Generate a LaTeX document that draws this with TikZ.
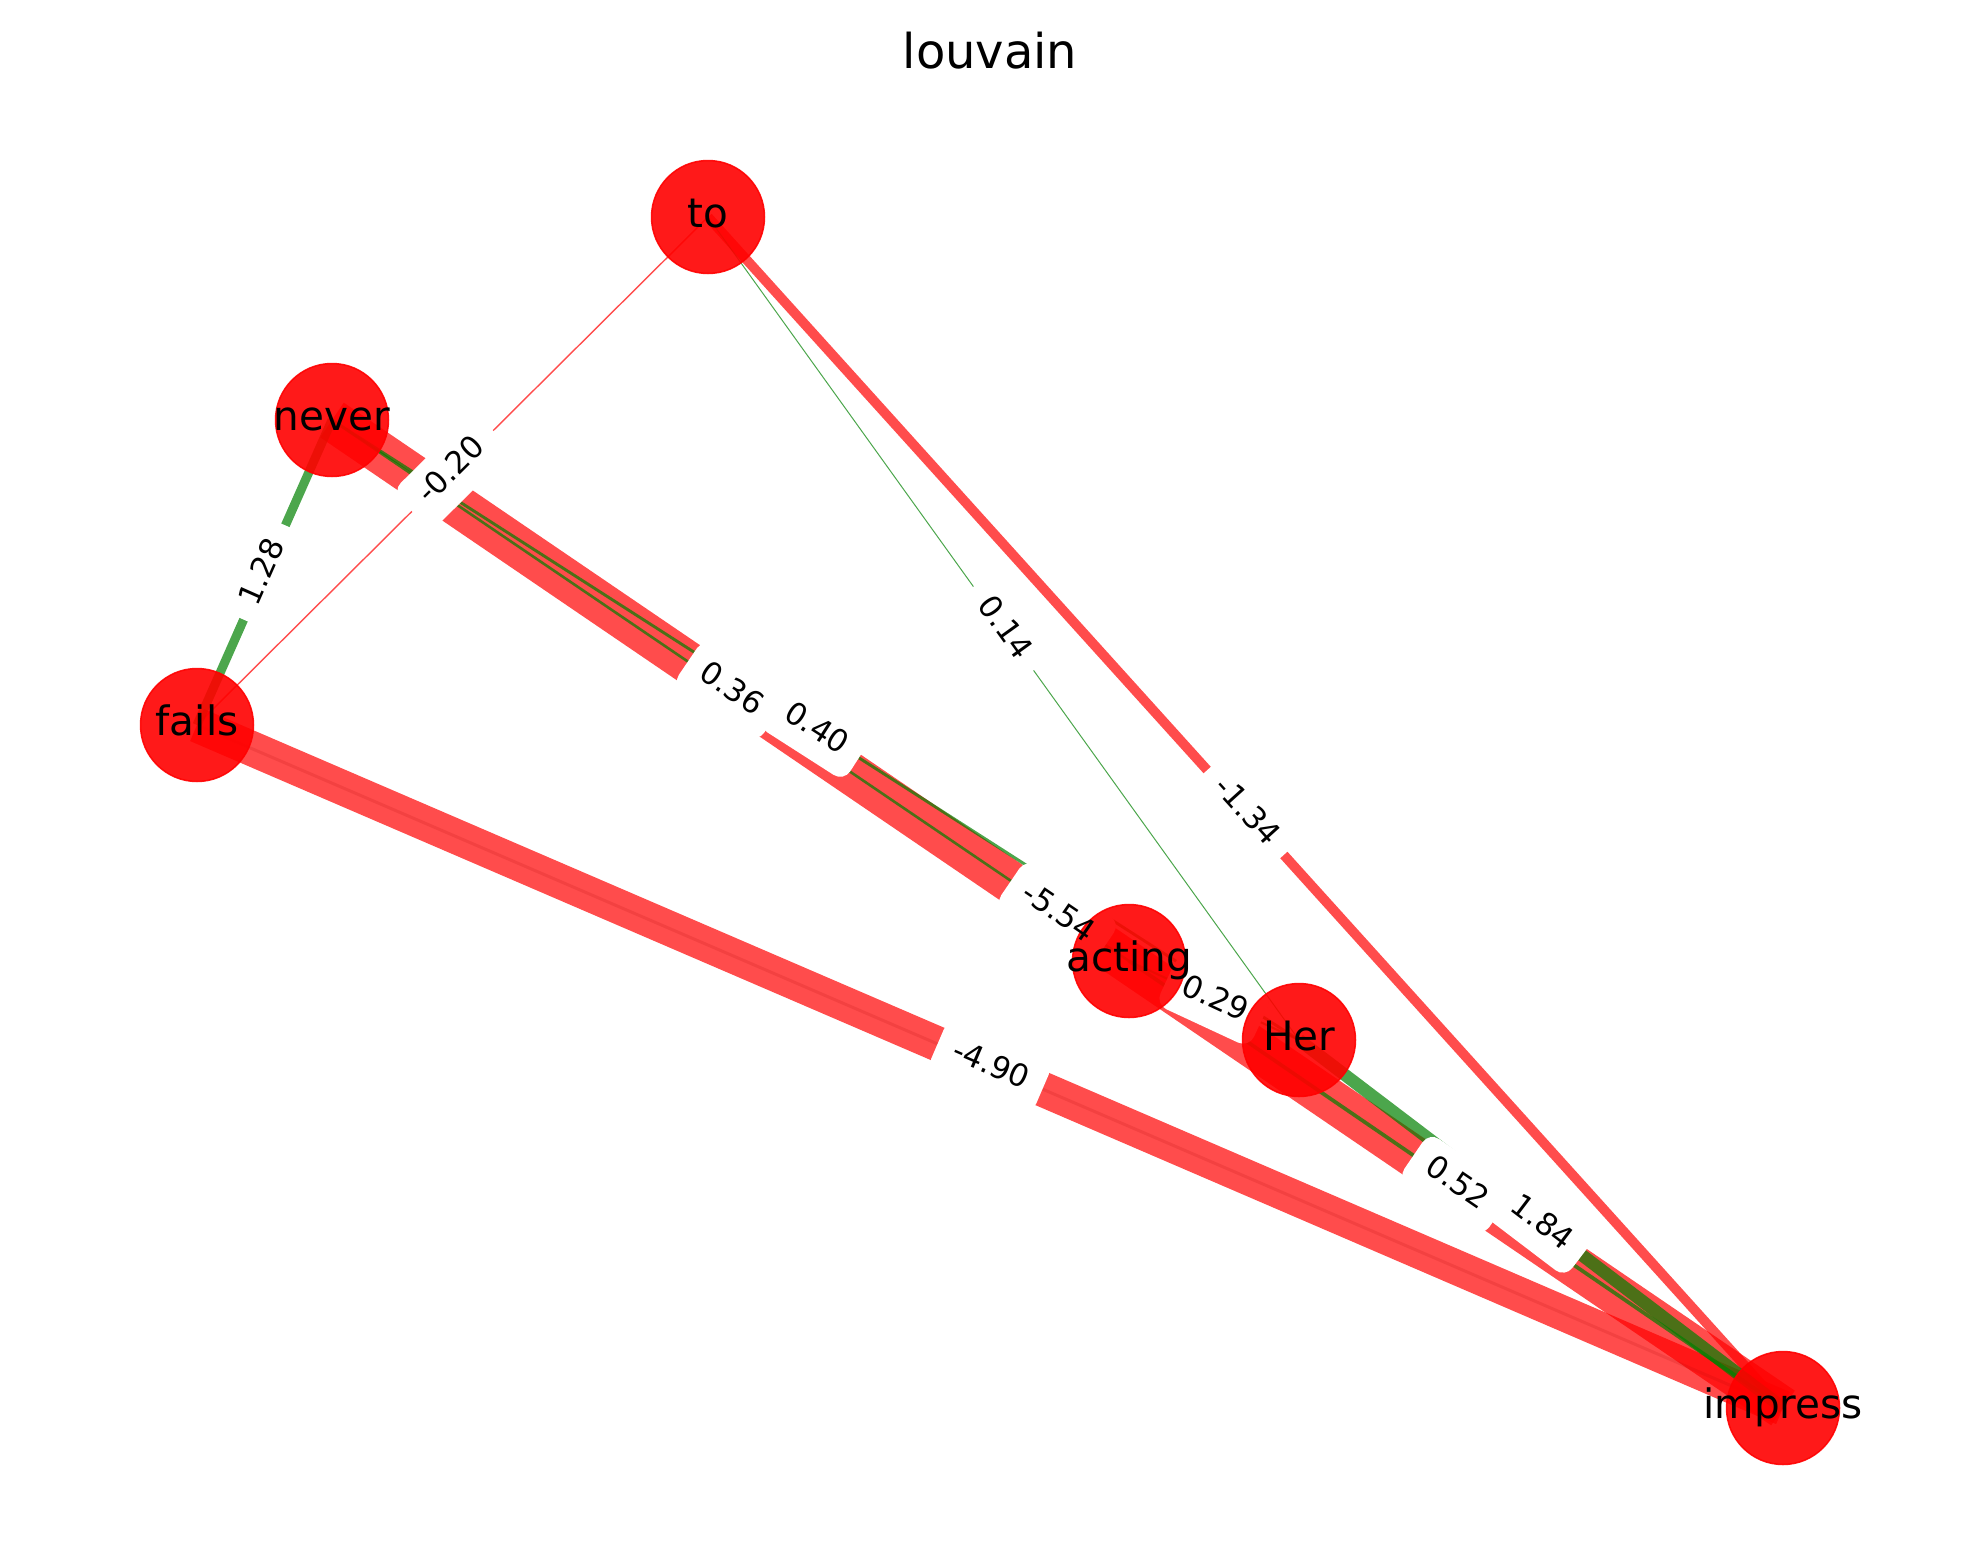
\documentclass[tikz,border=0pt]{standalone}
\usepackage{fontspec}
\setmainfont{DejaVu Sans}
\pgfdeclarelayer{edges}
\pgfdeclarelayer{boxes}
\pgfdeclarelayer{front}
\pgfsetlayers{edges,boxes,main,front}
\definecolor{mplgreen}{RGB}{0,128,0}
\definecolor{mplred}{RGB}{255,0,0}
\newcommand\elab[3]{%
  \begin{pgfonlayer}{boxes}\path (#1.center) -- node[lblbox] (lb-#1-#2) {\phantom{#3}} (#2.center);\end{pgfonlayer}%
  \begin{pgfonlayer}{front}\path (#1.center) -- node[lbltext] (lt-#1-#2) {#3} (#2.center);\end{pgfonlayer}}
\tikzset{
  vtx/.style={circle, minimum size=113pt, inner sep=0pt, fill=mplred, fill opacity=0.9, draw=mplred, draw opacity=0.9, line width=1.5pt},
  vtxtext/.style={font=\fontsize{40.5}{40.5}\selectfont, text height=30.8pt, text depth=9.7pt, inner sep=0pt, anchor=center},
  redge/.style={draw=mplred, draw opacity=0.7, line cap=butt},
  gedge/.style={draw=mplgreen, draw opacity=0.7, line cap=butt},
  lblbase/.style={sloped, midway, font=\fontsize{31}{31}\selectfont, text height=23.5pt, text depth=7.5pt, inner xsep=17pt, inner ysep=12.5pt, rounded corners=12pt},
  lblbox/.style={lblbase, fill=white},
  lbltext/.style={lblbase},
}
\begin{document}
\begin{tikzpicture}[x=1pt,y=-1pt]
\useasboundingbox (0,0) rectangle (1980,1563);
\node[font=\fontsize{48}{48}\selectfont, anchor=base] (title) at (990,68) {louvain};
% nodes
\node[vtx] (to) at (708,217) {};
\node[vtx] (never) at (332,420) {};
\node[vtx] (fails) at (197,725) {};
\node[vtx] (acting) at (1129,961) {};
\node[vtx] (Her) at (1299,1040) {};
\node[vtx] (impress) at (1783,1408) {};
\node[vtxtext] (to-t) at (to) {to};
\node[vtxtext] (never-t) at (never) {never};
\node[vtxtext] (fails-t) at (fails) {fails};
\node[vtxtext] (acting-t) at (acting) {acting};
\node[vtxtext] (Her-t) at (Her) {Her};
\node[vtxtext] (impress-t) at (impress) {impress};
% edges
\begin{pgfonlayer}{edges}
\draw[redge, line width=42pt] (never.center) -- (impress.center);
\draw[redge, line width=35pt] (fails.center) -- (impress.center);
\draw[draw=mplred!70!black, draw opacity=0.15, line width=3pt] (fails.center) -- (impress.center);
\draw[redge, line width=9.7pt] (to.center) -- (impress.center);
\draw[redge, line width=1.4pt] (to.center) -- (fails.center);
\draw[gedge, line width=9pt] (never.center) -- (fails.center);
\draw[gedge, line width=1pt] (to.center) -- (Her.center);
\draw[gedge, line width=2.6pt] (never.center) -- (acting.center);
\draw[gedge, line width=2.9pt] (never.center) -- (Her.center);
\draw[gedge, line width=2.1pt] (acting.center) -- (Her.center);
\draw[gedge, line width=3.7pt] (acting.center) -- (impress.center);
\draw[gedge, line width=12.5pt] (Her.center) -- (impress.center);
\end{pgfonlayer}
% edge labels
\elab{never}{fails}{1.28}
\elab{to}{fails}{-0.20}
\elab{to}{Her}{0.14}
\elab{to}{impress}{-1.34}
\elab{fails}{impress}{-4.90}
\elab{never}{impress}{-5.54}
\elab{never}{acting}{0.36}
\elab{never}{Her}{0.40}
\elab{acting}{Her}{0.29}
\elab{acting}{impress}{0.52}
\elab{Her}{impress}{1.84}
\end{tikzpicture}
\end{document}
